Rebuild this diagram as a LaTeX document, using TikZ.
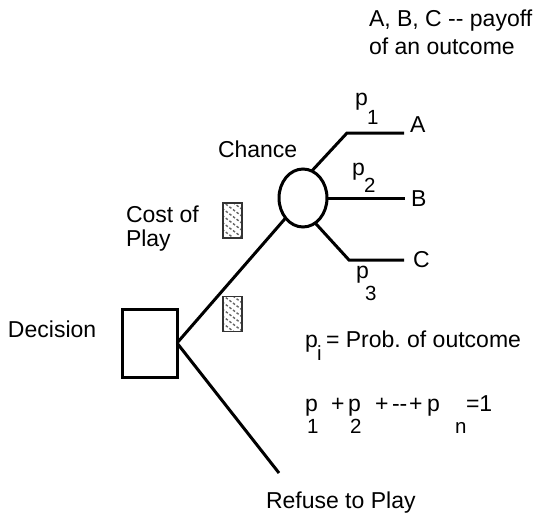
\documentclass[tikz,border=0pt]{standalone}
\usepackage{fontspec}
\setmainfont{Liberation Sans}
\usetikzlibrary{shapes.geometric}
\begin{document}
\frenchspacing
\begin{tikzpicture}[x=1pt,y=-1pt,
  every node/.style={inner sep=0pt,outer sep=0pt},
  txt/.style={anchor=base west,font=\fontsize{23}{27}\selectfont},
  sub/.style={anchor=base west,font=\fontsize{20.5}{24}\selectfont},
  edge/.style={line width=3pt,line join=miter},
  decbox/.style={draw,line width=3pt,rectangle,minimum width=55pt,minimum height=68pt},
  chancenode/.style={draw,line width=3pt,ellipse,minimum width=48pt,minimum height=58pt},
  hatchbox/.style={draw=black!80,line width=1.6pt,fill=white,minimum width=19pt,minimum height=35pt,
    path picture={\foreach \k in {-4,...,4}
      \draw[black!60,line width=1.4pt,dash pattern=on 2.5pt off 2pt]
        ([xshift=-8pt,yshift=\k*7pt]path picture bounding box.north west) -- ++(32pt,-24pt);}}
]
\useasboundingbox (0,0) rectangle (535,514);

% decision and chance nodes
\node[decbox] (dec) at (149.5,343) {};
\node[chancenode] (chance) at (303,198) {};

% cost-of-play markers
\node[hatchbox] (cost1) at (232.5,220.5) {};
\node[hatchbox] (cost2) at (232.5,314) {};

% branch points and leaves
\coordinate (k1) at (347,133);
\coordinate (a1) at (404,133);
\coordinate (b1) at (405,198);
\coordinate (k3) at (349,260);
\coordinate (c1) at (404,260);
\coordinate (refuse) at (279,473);

\draw[edge] (dec.east) -- (chance);
\draw[edge] (dec.east) -- (refuse);
\draw[edge] (chance.72) -- (k1) -- (a1);
\draw[edge] (chance.east) -- (b1);
\draw[edge] (chance.-64) -- (k3) -- (c1);

% outcome labels
\node[txt] (la) at (410,132) {A};
\node[txt] (lb) at (411,206) {B};
\node[txt] (lc) at (413,267) {C};

% branch probabilities
\node[txt] (p1) at (355,105) {p};
\node[sub] (s1) at (367,124) {1};
\node[txt] (p2) at (352,175) {p};
\node[sub] (s2) at (364,192) {2};
\node[txt] (p3) at (356,278) {p};
\node[sub] (s3) at (365,300) {3};

% captions
\node[txt] (note1) at (369,26) {A, B, C -{}- payoff};
\node[txt] (note2) at (369,54) {of an outcome};
\node[txt] (lchance) at (218,157) {Chance};
\node[txt] (lcost) at (126,222) {Cost of};
\node[txt] (lplay) at (126,246) {Play};
\node[txt] (ldec) at (8,337) {Decision};
\node[txt] (lref) at (266,508) {Refuse to Play};

% probability definitions
\node[txt] (pi) at (305,347) {p};
\node[sub] (si) at (317,360) {i};
\node[txt] (pidef) at (326,347) {= Prob. of outcome};

\node[txt] (f1) at (305,411) {p};
\node[txt] (f2) at (331,411) {+};
\node[txt] (f3) at (348,411) {p};
\node[txt] (f4) at (375,411) {+};
\node[txt] (f5) at (392,411) {-{}-};
\node[txt] (f6) at (409,411) {+};
\node[txt] (f7) at (427,411) {p};
\node[txt] (f8) at (466,411) {=1};
\node[sub] (g1) at (307,433) {1};
\node[sub] (g2) at (350,433) {2};
\node[sub] (g3) at (455,433) {n};
\end{tikzpicture}
\end{document}
